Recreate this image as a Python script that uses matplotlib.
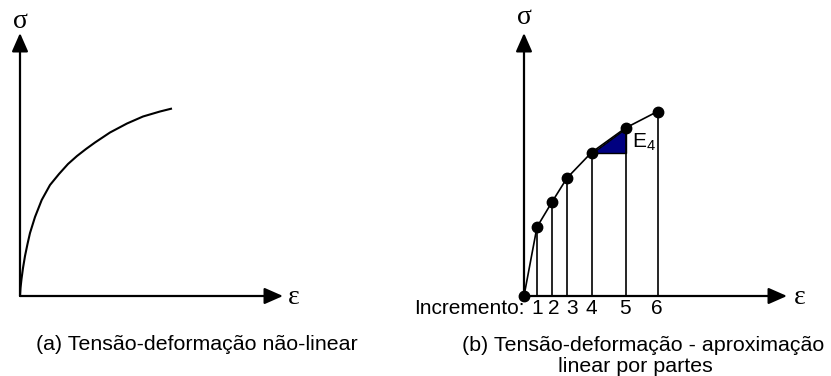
import matplotlib
matplotlib.use("Agg")
import matplotlib.pyplot as plt
from matplotlib.patches import Polygon

plt.rcParams['font.family'] = ['Liberation Sans', 'DejaVu Sans']
plt.rcParams['mathtext.fontset'] = 'custom'
plt.rcParams['mathtext.rm'] = 'Liberation Sans'

# (a) non-linear stress-strain curve (strain, stress in drawing units)
strain_a = [0, 0.5, 1.5, 3, 5, 7.5, 10, 15, 21.7, 30, 39, 48, 57, 66, 75, 90, 107, 123, 140, 152]
stress_a = [0, 8, 17, 28, 40, 52, 63, 79, 96, 111, 122, 132, 140, 147, 153.5, 163.5, 172.5, 179.5, 184.5, 187.5]

# (b) piecewise-linear approximation
increments = ['1', '2', '3', '4', '5', '6']
strain_b = [0, 13, 28, 43, 67.5, 101.5, 133.5]
stress_b = [0, 69, 94, 118, 143.5, 168, 184.5]
highlight = 4  # E_4 between increment 4 and 5

# label horizontal nudges (layout only)
label_dx = [0, 2, 5, 0, -1, -1]

W, H = 831, 376
fig = plt.figure(figsize=(W / 100, H / 100), dpi=100)

def make_axes(x0_px, y0_px, w_px, h_px):
    ax = fig.add_axes([x0_px / W, (H - y0_px) / H, w_px / W, h_px / H])
    ax.set_xlim(0, w_px)
    ax.set_ylim(0, h_px)
    ax.axis('off')
    return ax

def draw_axes_arrows(ax, xlen, ylen):
    ap = dict(arrowstyle='-|>,head_length=0.75,head_width=0.33', mutation_scale=15,
              lw=1.6, color='black', shrinkA=0, shrinkB=0)
    ax.annotate('', xy=(xlen, 0), xytext=(0, 0), arrowprops=ap, annotation_clip=False)
    ax.annotate('', xy=(0, ylen), xytext=(0, 0), arrowprops=ap, annotation_clip=False)

CAP = 15.4

# ---- panel (a)
axa = make_axes(20, 296, 300, 296)
draw_axes_arrows(axa, 263, 263)
axa.plot(strain_a, stress_a, color='black', lw=1.5, solid_capstyle='butt',
         solid_joinstyle='round', clip_on=False)
axa.text(0, 274, 'σ', family='Liberation Serif', fontsize=20, ha='center', va='center')
axa.text(268, -1, 'ε', family='Liberation Serif', fontsize=20, ha='left', va='center')

fig.text(197 / W, 1 - 350 / H, '(a) Tensão-deformação não-linear', fontsize=CAP,
         ha='center', va='baseline')

# ---- panel (b)
axb = make_axes(524, 296, 307, 296)
draw_axes_arrows(axb, 263, 263)
i = highlight
tri = Polygon([(strain_b[i], stress_b[i]), (strain_b[i + 1], stress_b[i]),
               (strain_b[i + 1], stress_b[i + 1])], closed=True,
              facecolor='#000080', edgecolor='black', lw=1.0, zorder=2)
axb.add_patch(tri)
for x, y in zip(strain_b[1:], stress_b[1:]):
    axb.plot([x, x], [0, y], color='black', lw=1.2, zorder=2)
axb.plot(strain_b, stress_b, color='black', lw=1.2, marker='o', markersize=7.5,
         zorder=3, clip_on=False)
axb.text(strain_b[i + 1] + 7, stress_b[i + 1] - 25, r'$\mathregular{E_4}$',
         fontsize=15, ha='left', va='bottom')
for lab, x, dx in zip(increments, strain_b[1:], label_dx):
    axb.text(x + dx, -13, lab, fontsize=15, ha='center', va='center')
axb.text(1, -13, 'Incremento:', fontsize=15, ha='right', va='center')
axb.text(0, 278, 'σ', family='Liberation Serif', fontsize=20, ha='center', va='center')
axb.text(270, -1, 'ε', family='Liberation Serif', fontsize=20, ha='left', va='center')

fig.text(643 / W, 1 - 351 / H, '(b) Tensão-deformação - aproximação', fontsize=CAP,
         ha='center', va='baseline')
fig.text(635 / W, 1 - 372 / H, 'linear por partes', fontsize=CAP,
         ha='center', va='baseline')

fig.savefig('out.png', dpi=100)
